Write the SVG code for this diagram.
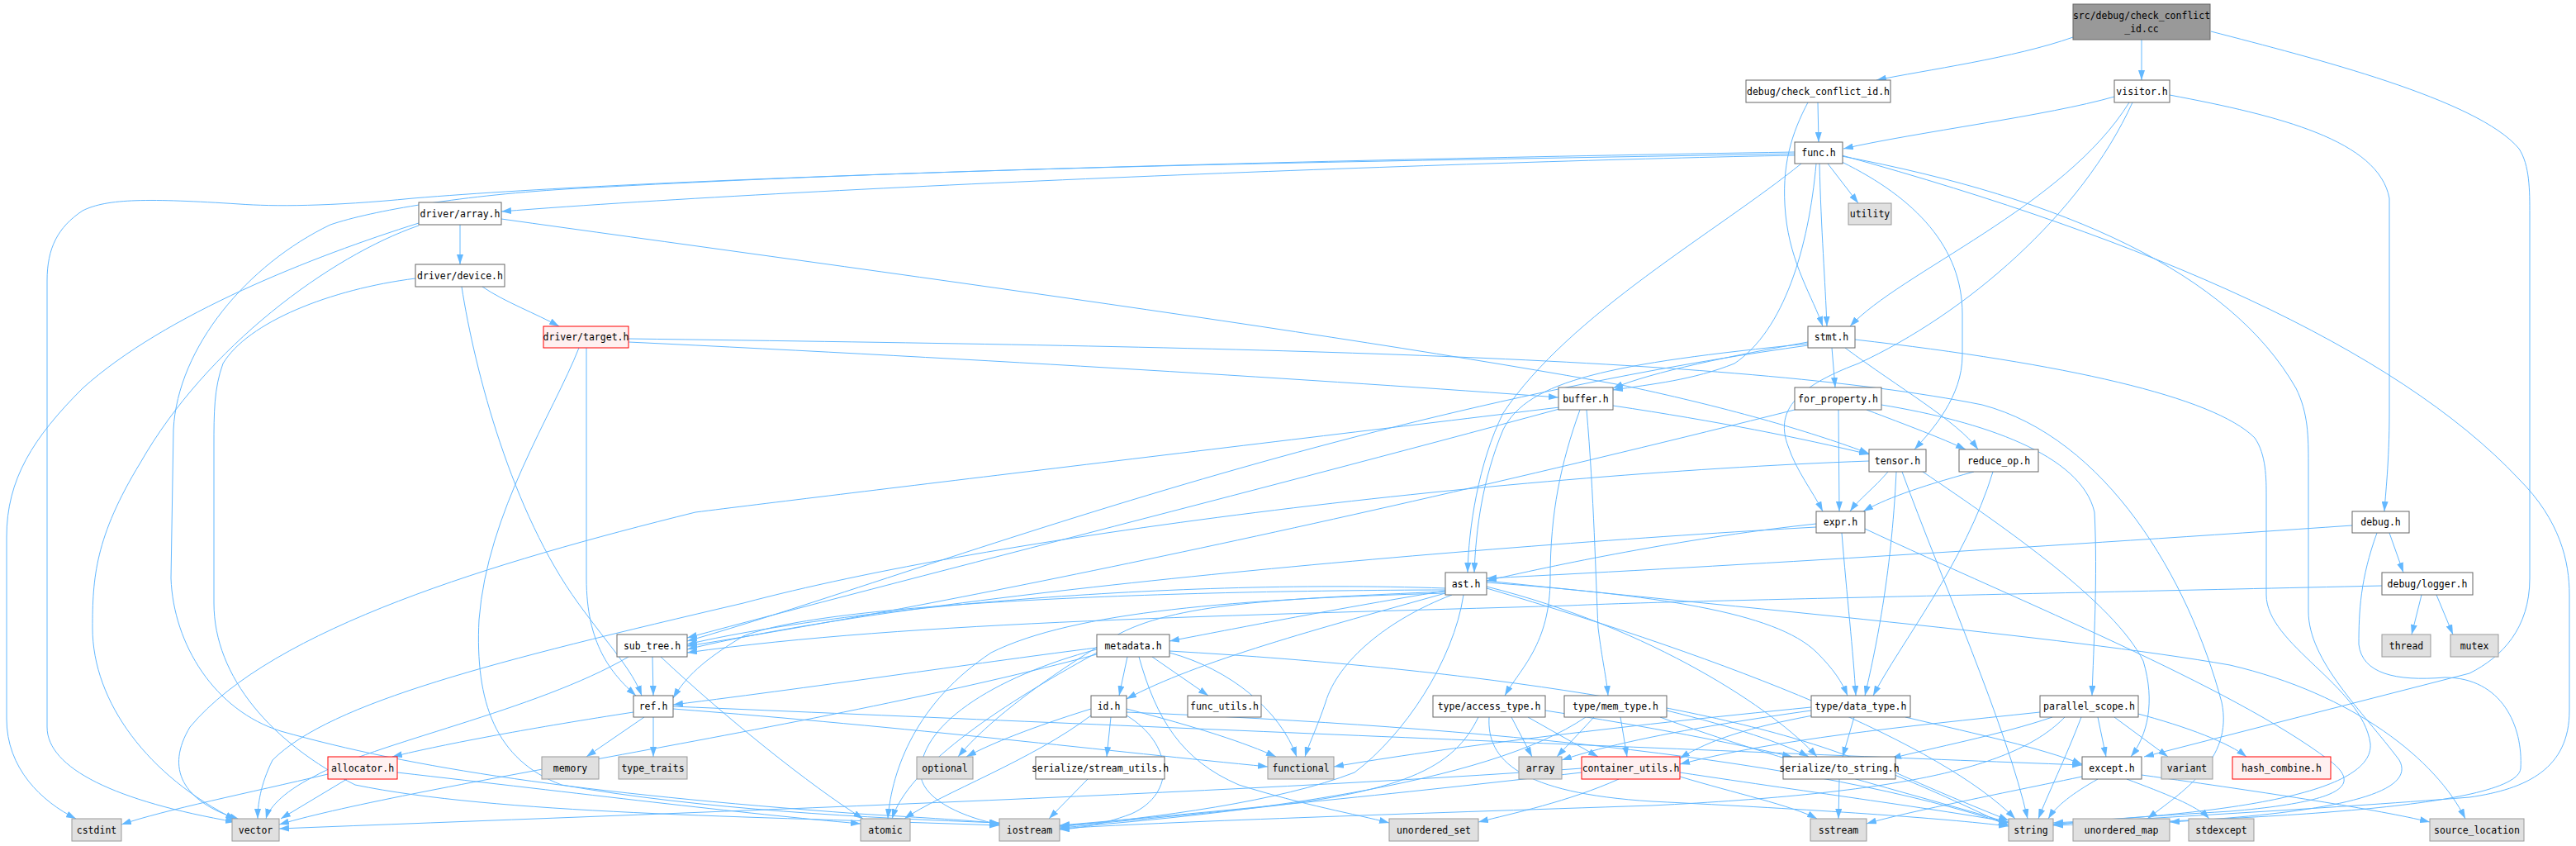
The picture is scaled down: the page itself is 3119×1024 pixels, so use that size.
<svg xmlns="http://www.w3.org/2000/svg" width="3119" height="1024" viewBox="0 0 3119 1024">
<style>
.n rect{fill:#fff;stroke:#666;stroke-width:1}
.g rect{fill:#e0e0e0;stroke:#999;stroke-width:1}
.r rect{fill:#fff0f0;stroke:#f00;stroke-width:1}
.root rect{fill:#999;stroke:#666;stroke-width:1}
text{font-family:"DejaVu Sans Mono","Liberation Mono",monospace;font-size:11.5px;text-anchor:middle;fill:#000}
#edges path{fill:none;stroke:#63b8ff;stroke-width:1;marker-end:url(#ah)}
</style>
<defs>
<marker id="ah" markerWidth="12" markerHeight="8" refX="12" refY="4" orient="auto" markerUnits="userSpaceOnUse"><path d="M0,0 L12,4 L0,8 z" fill="#63b8ff" stroke="none"/></marker>
</defs>
<rect width="3119" height="1024" fill="#fff"/>
<g id="edges">
<path d="M2510,45 C2440,70 2330,85 2272,97"/>
<path d="M2593,48 L2593,97"/>
<path d="M2677,38 C2800,70 3000,120 3050,180 C3063,200 3063,230 3063,260 L3063,700 C3063,760 3030,795 2990,815 L2596,916"/>
<path d="M2201,124 L2202,172"/>
<path d="M2189,124 C2170,160 2156,200 2162,260 C2168,320 2195,360 2207,395"/>
<path d="M2560,117 C2480,140 2320,160 2232,180"/>
<path d="M2578,124 C2500,250 2300,330 2240,395"/>
<path d="M2582,124 C2520,260 2380,380 2250,440 C2170,470 2150,500 2165,540 C2175,570 2195,595 2207,619"/>
<path d="M2627,115 C2760,140 2880,170 2893,240 L2893,500 C2893,560 2888,600 2887,619"/>
<path d="M2173,188 C1800,195 1000,225 607,256"/>
<path d="M2173,184 C1500,195 800,215 500,240 C400,250 330,250 290,247 C180,240 130,240 100,255 C70,275 57,300 57,340 L57,880 C57,930 140,970 285,995"/>
<path d="M2173,186 C1700,195 1200,200 700,228 C560,236 450,255 400,272 C300,320 215,420 210,520 L207,700 C210,780 260,860 340,885 C500,930 700,960 1040,985 C1120,990 1180,993 1210,997"/>
<path d="M2213,198 L2250,246"/>
<path d="M2203,198 C2205,280 2210,340 2212,395"/>
<path d="M2181,198 C2080,280 1900,380 1820,500 C1790,560 1778,640 1777,693"/>
<path d="M2199,198 C2190,300 2160,400 2100,440 C2050,460 2000,465 1953,472"/>
<path d="M2230,196 C2320,240 2376,300 2376,380 L2376,430 C2376,480 2340,520 2318,544"/>
<path d="M2230,189 C2500,240 2700,330 2780,470 C2795,500 2795,530 2795,560 L2795,740 C2795,800 2860,860 2905,920 C2930,965 2800,985 2627,995"/>
<path d="M2230,188 C2600,290 2900,420 3050,580 C3100,630 3111,680 3111,720 L3111,860 C3111,930 3060,955 2990,965 C2800,980 2600,990 2486,998"/>
<path d="M557,272 L557,320"/>
<path d="M507,270 C380,310 200,380 100,470 C40,530 8,580 8,650 L8,870 C8,930 50,970 92,991"/>
<path d="M507,273 C400,310 250,420 170,560 C115,650 112,700 112,760 C112,850 180,940 285,992"/>
<path d="M607,265 C1000,320 1600,400 1968,467 C2100,495 2200,525 2263,549"/>
<path d="M584,347 C610,365 650,380 677,395"/>
<path d="M559,347 C575,450 620,620 700,730 C740,785 765,810 777,842"/>
<path d="M503,337 C400,350 300,390 270,440 C259,470 259,500 259,540 L259,730 C259,820 330,900 430,950 C600,985 900,988 1210,999"/>
<path d="M710,421 L710,700 C710,780 740,815 770,842"/>
<path d="M761,414 C1200,435 1600,460 1887,481"/>
<path d="M761,410 C1500,420 2100,430 2400,490 C2550,530 2650,700 2690,850 C2705,920 2640,960 2600,991"/>
<path d="M701,421 C670,500 590,620 580,750 C575,850 600,920 680,950 C850,980 1050,990 1210,996"/>
<path d="M1953,491 C2080,510 2180,530 2263,550"/>
<path d="M1913,496 C1890,560 1877,620 1877,700 C1877,780 1840,810 1822,842"/>
<path d="M1921,496 C1930,600 1932,700 1935,760 C1940,800 1945,820 1947,842"/>
<path d="M1888,495 C1500,600 1100,700 832,772"/>
<path d="M1888,493 C1500,540 1000,600 842,620 C600,680 330,760 230,880 C200,930 220,970 290,992"/>
<path d="M2218,421 L2222,469"/>
<path d="M2234,421 C2300,470 2370,510 2395,544"/>
<path d="M2246,411 C2500,440 2680,480 2730,530 C2744,550 2744,580 2744,600 L2744,720 C2744,780 2860,830 2870,900 C2875,960 2700,985 2486,996"/>
<path d="M2189,414 C2100,430 2000,450 1953,470"/>
<path d="M2189,416 C1950,440 1850,460 1820,520 C1795,580 1787,640 1785,693"/>
<path d="M2189,418 C1600,500 1100,700 832,776"/>
<path d="M2226,496 L2227,619"/>
<path d="M2260,496 C2310,515 2350,530 2380,544"/>
<path d="M2278,490 C2400,510 2520,550 2536,620 C2540,700 2535,780 2533,842"/>
<path d="M2173,496 C1600,640 1100,740 832,782"/>
<path d="M2286,571 C2270,590 2250,605 2240,619"/>
<path d="M2296,571 C2290,700 2270,790 2258,842"/>
<path d="M2303,571 C2350,700 2430,880 2455,991"/>
<path d="M2263,558 C1800,575 1200,650 900,730 C600,800 400,850 330,920 C315,950 312,975 312,991"/>
<path d="M2328,571 C2430,640 2560,730 2595,800 C2610,850 2600,890 2580,916"/>
<path d="M2390,571 C2320,590 2280,605 2256,619"/>
<path d="M2413,571 C2380,680 2300,780 2268,842"/>
<path d="M2199,634 C2050,650 1900,680 1800,703"/>
<path d="M2230,645 C2236,720 2244,790 2247,842"/>
<path d="M2258,640 C2450,730 2700,830 2820,920 C2860,950 2840,970 2700,982 C2600,988 2530,993 2486,998"/>
<path d="M2199,638 C1800,660 1100,720 832,786"/>
<path d="M2848,636 C2500,660 2100,685 1800,700"/>
<path d="M2893,645 L2910,693"/>
<path d="M2878,645 C2858,700 2856,740 2856,780 C2860,815 2900,825 2960,820 C3030,820 3055,880 3052,930 C3048,980 2700,992 2486,999"/>
<path d="M2932,720 L2920,768"/>
<path d="M2950,720 L2970,768"/>
<path d="M2884,709 C2400,720 2000,728 1900,733 C1500,745 1100,752 832,790"/>
<path d="M1750,715 C1600,740 1500,760 1416,776"/>
<path d="M1750,718 C1600,760 1450,800 1364,846"/>
<path d="M1758,720 C1680,750 1620,800 1605,850 C1595,880 1585,900 1580,916"/>
<path d="M1772,720 C1760,800 1700,890 1640,935 C1550,970 1400,990 1283,1000"/>
<path d="M1750,716 C1550,725 1420,730 1350,770 C1250,830 1190,880 1160,916"/>
<path d="M1750,718 C1500,725 1300,740 1200,790 C1110,850 1080,930 1075,991"/>
<path d="M1750,712 C1400,700 1000,740 832,780"/>
<path d="M1750,714 C1400,715 1000,730 900,770 C850,800 830,820 815,845"/>
<path d="M1800,705 C2000,720 2150,740 2200,790 C2220,810 2230,825 2237,842"/>
<path d="M1800,710 C2000,760 2150,860 2200,916"/>
<path d="M1800,712 C2100,800 2350,900 2440,991"/>
<path d="M1800,703 C2100,735 2500,770 2700,805 C2850,840 2950,920 2985,991"/>
<path d="M1365,795 L1355,842"/>
<path d="M1395,795 L1463,842"/>
<path d="M1416,790 C1490,810 1550,860 1570,916"/>
<path d="M1379,795 C1400,870 1430,920 1500,950 C1580,975 1640,985 1682,996"/>
<path d="M1328,784 C1200,800 1000,830 815,853"/>
<path d="M1328,786 C1200,820 1110,880 1115,940 C1120,970 1170,990 1210,998"/>
<path d="M1328,790 C1200,860 1100,930 1080,991"/>
<path d="M1328,792 C1000,880 500,950 338,998"/>
<path d="M1416,788 C1800,810 2100,860 2250,920 C2350,960 2400,985 2432,1000"/>
<path d="M1321,858 C1250,880 1200,900 1170,916"/>
<path d="M1345,868 L1340,916"/>
<path d="M1364,858 C1450,880 1510,900 1545,916"/>
<path d="M1364,866 C1420,900 1425,960 1370,985 C1330,1000 1300,1003 1283,1004"/>
<path d="M1321,866 C1250,920 1140,960 1095,991"/>
<path d="M1364,862 C1800,880 2200,920 2432,998"/>
<path d="M1317,943 L1270,991"/>
<path d="M1830,868 L1855,916"/>
<path d="M1850,868 L1935,916"/>
<path d="M1871,860 C2000,880 2100,900 2170,916"/>
<path d="M1803,868 C1800,920 1840,960 2000,970 C2200,980 2350,990 2432,1000"/>
<path d="M1790,868 C1760,930 1700,960 1500,980 C1400,990 1320,998 1283,1000"/>
<path d="M1930,868 L1885,916"/>
<path d="M1962,868 L1970,916"/>
<path d="M2018,860 C2100,880 2160,900 2190,916"/>
<path d="M2010,868 C2150,920 2350,970 2432,996"/>
<path d="M1920,868 C1800,950 1500,985 1283,1002"/>
<path d="M2193,856 C1950,880 1750,905 1615,928"/>
<path d="M2195,866 C2120,880 2070,895 2034,918"/>
<path d="M2245,868 L2231,916"/>
<path d="M2307,868 C2400,890 2470,905 2521,925"/>
<path d="M2193,860 C2050,880 1950,900 1891,920"/>
<path d="M2227,943 L2226,991"/>
<path d="M2295,935 C2350,960 2400,980 2432,993"/>
<path d="M1960,943 C1900,970 1830,985 1790,995"/>
<path d="M1915,935 C1700,960 1450,985 1283,999"/>
<path d="M2034,935 C2200,960 2350,980 2432,995"/>
<path d="M2034,940 C2100,960 2170,975 2200,991"/>
<path d="M1915,930 C1500,960 800,985 338,1003"/>
<path d="M2540,868 L2550,916"/>
<path d="M2560,868 L2625,916"/>
<path d="M2585,863 C2650,880 2700,900 2720,916"/>
<path d="M2520,868 C2500,920 2480,960 2468,991"/>
<path d="M2485,868 C2420,890 2340,905 2290,918"/>
<path d="M2470,862 C2300,880 2150,895 2034,925"/>
<path d="M2500,868 C2440,930 2300,960 2000,975 C1700,985 1400,995 1283,1003"/>
<path d="M2540,943 C2510,960 2490,975 2480,991"/>
<path d="M2575,943 C2620,960 2660,975 2675,991"/>
<path d="M2593,938 C2750,960 2880,980 2942,995"/>
<path d="M2521,940 C2400,965 2300,985 2260,997"/>
<path d="M790,795 L791,842"/>
<path d="M800,795 C880,870 980,950 1045,991"/>
<path d="M761,795 C650,860 450,900 380,940 C340,960 325,980 322,991"/>
<path d="M780,868 L710,916"/>
<path d="M791,868 L791,916"/>
<path d="M767,862 C650,880 540,900 475,916"/>
<path d="M815,858 C1100,880 1350,910 1535,928"/>
<path d="M815,855 C1400,880 2100,910 2521,926"/>
<path d="M397,937 C300,960 200,980 147,998"/>
<path d="M420,943 L340,991"/>
<path d="M481,935 C700,960 900,985 1042,997"/>
</g>
<g id="n_root" class="root"><rect x="2510" y="5" width="166" height="43"/><text x="2593" y="23">src/debug/check_conflict</text><text x="2593" y="39">_id.cc</text></g>
<g id="n_dcc" class="n"><rect x="2114" y="97" width="175" height="27"/><text x="2201.5" y="114.5">debug/check_conflict_id.h</text></g>
<g id="n_visitor" class="n"><rect x="2560" y="97" width="67" height="27"/><text x="2593.5" y="114.5">visitor.h</text></g>
<g id="n_func" class="n"><rect x="2173" y="172" width="58" height="26"/><text x="2202" y="189">func.h</text></g>
<g id="n_utility" class="g"><rect x="2238" y="246" width="52" height="26"/><text x="2264" y="263">utility</text></g>
<g id="n_stmt" class="n"><rect x="2189" y="395" width="57" height="26"/><text x="2217.5" y="412">stmt.h</text></g>
<g id="n_darray" class="n"><rect x="507" y="245" width="100" height="27"/><text x="557" y="262.5">driver/array.h</text></g>
<g id="n_ddevice" class="n"><rect x="503" y="320" width="108" height="27"/><text x="557" y="337.5">driver/device.h</text></g>
<g id="n_dtarget" class="r"><rect x="658" y="395" width="103" height="26"/><text x="709.5" y="412">driver/target.h</text></g>
<g id="n_forprop" class="n"><rect x="2173" y="469" width="105" height="27"/><text x="2225.5" y="486.5">for_property.h</text></g>
<g id="n_buffer" class="n"><rect x="1887" y="469" width="66" height="27"/><text x="1920" y="486.5">buffer.h</text></g>
<g id="n_tensor" class="n"><rect x="2263" y="544" width="69" height="27"/><text x="2297.5" y="561.5">tensor.h</text></g>
<g id="n_reduceop" class="n"><rect x="2372" y="544" width="96" height="27"/><text x="2420" y="561.5">reduce_op.h</text></g>
<g id="n_expr" class="n"><rect x="2199" y="619" width="59" height="26"/><text x="2228.5" y="636">expr.h</text></g>
<g id="n_debug" class="n"><rect x="2848" y="619" width="69" height="26"/><text x="2882.5" y="636">debug.h</text></g>
<g id="n_ast" class="n"><rect x="1750" y="693" width="50" height="27"/><text x="1775" y="710.5">ast.h</text></g>
<g id="n_logger" class="n"><rect x="2884" y="693" width="110" height="27"/><text x="2939" y="710.5">debug/logger.h</text></g>
<g id="n_subtree" class="n"><rect x="747" y="768" width="85" height="27"/><text x="789.5" y="785.5">sub_tree.h</text></g>
<g id="n_metadata" class="n"><rect x="1328" y="768" width="88" height="27"/><text x="1372" y="785.5">metadata.h</text></g>
<g id="n_thread" class="g"><rect x="2884" y="768" width="59" height="27"/><text x="2913.5" y="785.5">thread</text></g>
<g id="n_mutex" class="g"><rect x="2967" y="768" width="58" height="27"/><text x="2996" y="785.5">mutex</text></g>
<g id="n_ref" class="n"><rect x="767" y="842" width="48" height="26"/><text x="791" y="859">ref.h</text></g>
<g id="n_id" class="n"><rect x="1321" y="842" width="43" height="26"/><text x="1342.5" y="859">id.h</text></g>
<g id="n_funcutils" class="n"><rect x="1438" y="842" width="89" height="26"/><text x="1482.5" y="859">func_utils.h</text></g>
<g id="n_access" class="n"><rect x="1735" y="842" width="136" height="26"/><text x="1803" y="859">type/access_type.h</text></g>
<g id="n_memtype" class="n"><rect x="1894" y="842" width="124" height="26"/><text x="1956" y="859">type/mem_type.h</text></g>
<g id="n_datatype" class="n"><rect x="2193" y="842" width="120" height="26"/><text x="2253" y="859">type/data_type.h</text></g>
<g id="n_pscope" class="n"><rect x="2470" y="842" width="119" height="26"/><text x="2529.5" y="859">parallel_scope.h</text></g>
<g id="n_allocator" class="r"><rect x="397" y="916" width="84" height="27"/><text x="439" y="933.5">allocator.h</text></g>
<g id="n_memory" class="g"><rect x="656" y="916" width="69" height="27"/><text x="690.5" y="933.5">memory</text></g>
<g id="n_typetraits" class="g"><rect x="749" y="916" width="83" height="27"/><text x="790.5" y="933.5">type_traits</text></g>
<g id="n_optional" class="g"><rect x="1110" y="916" width="68" height="27"/><text x="1144" y="933.5">optional</text></g>
<g id="n_streamutils" class="n"><rect x="1254" y="916" width="156" height="27"/><text x="1332" y="933.5">serialize/stream_utils.h</text></g>
<g id="n_functional" class="g"><rect x="1535" y="916" width="80" height="27"/><text x="1575" y="933.5">functional</text></g>
<g id="n_array" class="g"><rect x="1839" y="916" width="52" height="27"/><text x="1865" y="933.5">array</text></g>
<g id="n_containerutils" class="r"><rect x="1915" y="916" width="119" height="27"/><text x="1974.5" y="933.5">container_utils.h</text></g>
<g id="n_tostring" class="n"><rect x="2159" y="916" width="136" height="27"/><text x="2227" y="933.5">serialize/to_string.h</text></g>
<g id="n_except" class="n"><rect x="2521" y="916" width="72" height="27"/><text x="2557" y="933.5">except.h</text></g>
<g id="n_variant" class="g"><rect x="2617" y="916" width="62" height="27"/><text x="2648" y="933.5">variant</text></g>
<g id="n_hashcombine" class="r"><rect x="2703" y="916" width="119" height="27"/><text x="2762.5" y="933.5">hash_combine.h</text></g>
<g id="n_cstdint" class="g"><rect x="87" y="991" width="60" height="27"/><text x="117" y="1008.5">cstdint</text></g>
<g id="n_vector" class="g"><rect x="281" y="991" width="57" height="27"/><text x="309.5" y="1008.5">vector</text></g>
<g id="n_atomic" class="g"><rect x="1042" y="991" width="60" height="27"/><text x="1072" y="1008.5">atomic</text></g>
<g id="n_iostream" class="g"><rect x="1210" y="991" width="73" height="27"/><text x="1246.5" y="1008.5">iostream</text></g>
<g id="n_uset" class="g"><rect x="1682" y="991" width="108" height="27"/><text x="1736" y="1008.5">unordered_set</text></g>
<g id="n_sstream" class="g"><rect x="2192" y="991" width="68" height="27"/><text x="2226" y="1008.5">sstream</text></g>
<g id="n_string" class="g"><rect x="2432" y="991" width="54" height="27"/><text x="2459" y="1008.5">string</text></g>
<g id="n_umap" class="g"><rect x="2510" y="991" width="117" height="27"/><text x="2568.5" y="1008.5">unordered_map</text></g>
<g id="n_stdexcept" class="g"><rect x="2650" y="991" width="79" height="27"/><text x="2689.5" y="1008.5">stdexcept</text></g>
<g id="n_sourceloc" class="g"><rect x="2942" y="991" width="114" height="27"/><text x="2999" y="1008.5">source_location</text></g>
</svg>
